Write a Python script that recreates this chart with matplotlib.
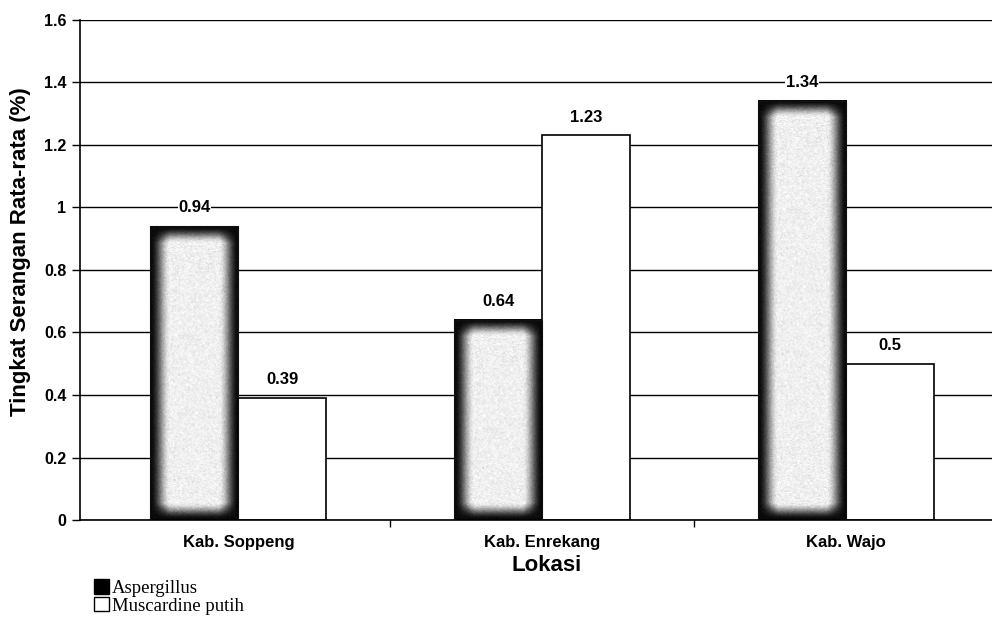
import matplotlib
import matplotlib.pyplot as plt
from matplotlib.patches import Patch
import numpy as np

plt.switch_backend('agg')

# Data: average attack level per location
lokasi = ['Kab. Soppeng', 'Kab. Enrekang', 'Kab. Wajo']
aspergillus = [0.94, 0.64, 1.34]
muscardine = [0.39, 1.23, 0.5]
series_names = ['Aspergillus', 'Muscardine putih']
yticks = [0, 0.2, 0.4, 0.6, 0.8, 1.0, 1.2, 1.4, 1.6]
ytick_labels = ['0', '0.2', '0.4', '0.6', '0.8', '1', '1.2', '1.4', '1.6']

plt.rcParams['font.family'] = ['Liberation Sans', 'DejaVu Sans']

fig = plt.figure(figsize=(9.92, 6.17), dpi=100)
ax = fig.add_axes([0.081, 0.157, 0.919, 0.811])

bar_w = 0.29
x = np.arange(len(lokasi))
ax.set_xlim(-0.52, 2.48)
ax.set_ylim(0, 1.6)

# gridlines behind the bars
ax.set_yticks(yticks)
ax.set_yticklabels(ytick_labels, fontsize=11.5, fontweight='bold')
ax.yaxis.grid(True, color='black', linewidth=1.0)
ax.set_axisbelow(True)


def shaded_fill(h, w, edge=19.0, rim=1.0):
    # dark rim fading to a light grey centre
    yy = np.arange(h) + 0.5
    xx = np.arange(w) + 0.5
    dx = np.minimum(xx, w - xx)[None, :]
    dy = np.minimum(yy, h - yy)[:, None]
    tx = np.clip((dx - rim) / edge, 0, 1)
    ty = np.clip((dy - rim) / (edge * 0.85), 0, 1)
    t = tx * ty
    t = t * t * (3 - 2 * t)
    img = 0.04 + 0.90 * t
    rng = np.random.default_rng(3)
    img = img + rng.normal(0, 0.03, img.shape) * (0.3 + t)
    return np.clip(img, 0, 1)


# Aspergillus: outlined bars with a shaded fill image inside each one
bars_a = ax.bar(x - bar_w / 2, aspergillus, bar_w, facecolor='none',
                edgecolor='#111111', linewidth=0.8, zorder=3)
fig.canvas.draw()
px_per_x = ax.transData.transform((1, 0))[0] - ax.transData.transform((0, 0))[0]
px_per_y = ax.transData.transform((0, 1))[1] - ax.transData.transform((0, 0))[1]
for rect in bars_a:
    x0 = rect.get_x()
    w = rect.get_width()
    h = rect.get_height()
    img = shaded_fill(max(int(h * px_per_y), 2), max(int(w * px_per_x), 2))
    ax.imshow(img, cmap='gray', vmin=0, vmax=1, extent=[x0, x0 + w, 0, h],
              aspect='auto', interpolation='bilinear', zorder=2)

bars_m = ax.bar(x + bar_w / 2, muscardine, bar_w, facecolor='white',
                edgecolor='black', linewidth=1.2, zorder=2)

for bars, vals in [(bars_a, aspergillus), (bars_m, muscardine)]:
    for rect, v in zip(bars, vals):
        ax.text(rect.get_x() + rect.get_width() / 2, v + 0.035, f'{v:g}',
                ha='center', va='bottom', fontsize=12, fontweight='bold',
                zorder=4, bbox=dict(facecolor='white', edgecolor='none', pad=0.4))

ax.set_xlim(-0.52, 2.48)
ax.set_ylim(0, 1.6)

# category labels and boundary ticks
ax.set_xticks(x)
ax.set_xticklabels(lokasi, fontsize=12, fontweight='bold')
ax.tick_params(axis='x', which='major', length=0, pad=11)
ax.set_xticks([0.5, 1.5], minor=True)
ax.tick_params(axis='x', which='minor', length=5, width=1, color='black')
ax.tick_params(axis='y', length=6, width=1, pad=4)

ax.set_xlabel('Lokasi', fontsize=16, fontweight='bold')
ax.xaxis.set_label_coords(0.511, -0.07)
ax.set_ylabel('Tingkat Serangan Rata-rata (%)', fontsize=16, fontweight='bold')
ax.yaxis.set_label_coords(-0.054, 0.536)

for s in ['top', 'right']:
    ax.spines[s].set_visible(False)
ax.spines['left'].set_linewidth(1.2)
ax.spines['bottom'].set_linewidth(1.2)

handles = [Patch(facecolor='black', edgecolor='black'),
           Patch(facecolor='white', edgecolor='black', linewidth=1.0)]
fig.legend(handles, series_names, loc='upper left', bbox_to_anchor=(0.095, 0.061),
           frameon=False, prop={'family': 'Liberation Serif', 'size': 13.5},
           handlelength=0.8, handleheight=0.8, handletextpad=0.15,
           labelspacing=0.0, borderpad=0, borderaxespad=0)

plt.savefig('out.png', dpi=100)
